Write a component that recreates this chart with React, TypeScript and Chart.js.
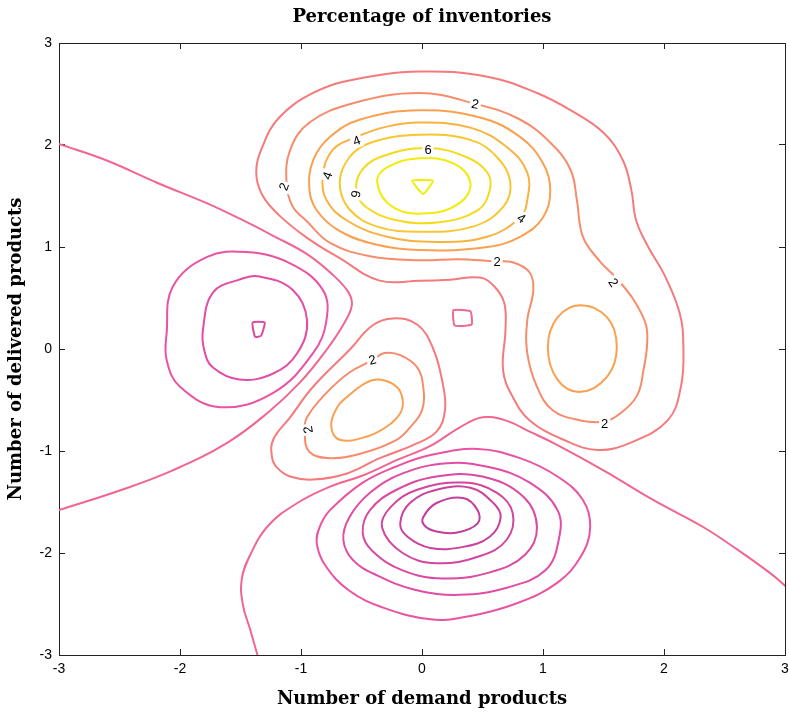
import { useEffect, useRef } from "react";
import { Chart, registerables } from "chart.js";

Chart.register(...registerables);

type Pt = [number, number];

// ---- axis ticks ----
const xTicks = [-3, -2, -1, 0, 1, 2, 3];
const yTicks = [-3, -2, -1, 0, 1, 2, 3];

// ---- contour lines (x, y in data units) ----
const top8: Pt[] = [[-0.08, 1.65], [0.09, 1.65], [0.01, 1.52]];
const top7: Pt[] = [[-0.37, 1.63], [-0.29, 1.78], [-0.02, 1.87], [0.26, 1.82], [0.40, 1.63], [0.31, 1.43], [0.04, 1.33], [-0.24, 1.39]];
const top6: Pt[] = [[-0.54, 1.53], [-0.51, 1.73], [-0.35, 1.88], [0.04, 1.97], [0.37, 1.88], [0.54, 1.73], [0.56, 1.56], [0.46, 1.36], [0.12, 1.24], [-0.24, 1.27], [-0.46, 1.39]];
const top5: Pt[] = [[-0.68, 1.63], [-0.60, 1.88], [-0.43, 2.02], [-0.02, 2.10], [0.40, 2.05], [0.62, 1.88], [0.73, 1.63], [0.67, 1.39], [0.42, 1.20], [-0.02, 1.15], [-0.37, 1.20], [-0.60, 1.37]];
const top4: Pt[] = [[-0.82, 1.69], [-0.74, 1.95], [-0.54, 2.08], [-0.29, 2.18], [-0.02, 2.22], [0.40, 2.17], [0.70, 1.98], [0.87, 1.73], [0.87, 1.46], [0.81, 1.29], [0.54, 1.10], [0.12, 1.05], [-0.29, 1.10], [-0.62, 1.26], [-0.79, 1.46]];
const top3: Pt[] = [[-0.93, 1.56], [-0.90, 1.85], [-0.76, 2.08], [-0.51, 2.25], [-0.02, 2.34], [0.48, 2.27], [0.81, 2.08], [1.00, 1.82], [1.06, 1.56], [1.00, 1.29], [0.81, 1.10], [0.54, 1.00], [-0.02, 0.97], [-0.43, 1.04], [-0.70, 1.17], [-0.87, 1.36]];
const upper2: Pt[] = [[-1.09, 1.95], [-0.93, 2.22], [-0.57, 2.41], [-0.02, 2.51], [0.42, 2.41], [0.81, 2.25], [1.08, 2.00], [1.23, 1.75], [1.28, 1.46], [1.33, 1.10], [1.47, 0.86], [1.61, 0.69], [1.75, 0.48], [1.85, 0.24], [1.86, 0.04], [1.83, -0.21], [1.78, -0.45], [1.64, -0.63], [1.51, -0.71], [1.31, -0.70], [1.08, -0.60], [0.95, -0.37], [0.87, -0.04], [0.87, 0.28], [0.92, 0.58], [0.89, 0.75], [0.75, 0.85], [0.58, 0.86], [0.31, 0.88], [-0.02, 0.87], [-0.43, 0.91], [-0.76, 1.04], [-0.95, 1.25], [-1.07, 1.40], [-1.12, 1.63]];
const upper1: Pt[] = [[-1.37, 1.73], [-1.32, 1.98], [-1.18, 2.27], [-0.90, 2.51], [-0.57, 2.64], [-0.02, 2.72], [0.54, 2.67], [0.95, 2.51], [1.23, 2.34], [1.50, 2.12], [1.66, 1.85], [1.73, 1.56], [1.77, 1.26], [1.87, 1.00], [2.01, 0.71], [2.13, 0.35], [2.16, 0.02], [2.14, -0.37], [2.03, -0.70], [1.72, -0.92], [1.45, -0.99], [1.17, -0.89], [0.89, -0.70], [0.75, -0.47], [0.67, -0.21], [0.69, 0.19], [0.68, 0.45], [0.60, 0.61], [0.48, 0.70], [0.23, 0.68], [-0.02, 0.67], [-0.35, 0.67], [-0.68, 0.89], [-0.95, 1.09], [-1.18, 1.31], [-1.32, 1.51]];
const right3: Pt[] = [[1.31, 0.43], [1.53, 0.31], [1.61, 0.02], [1.53, -0.27], [1.31, -0.42], [1.12, -0.30], [1.04, 0.02], [1.12, 0.31]];
const lobe1: Pt[] = [[-1.24, -1.06], [-1.23, -0.89], [-1.09, -0.67], [-0.90, -0.37], [-0.60, -0.01], [-0.41, 0.23], [-0.24, 0.30], [-0.04, 0.24], [0.09, 0.01], [0.17, -0.33], [0.19, -0.60], [0.12, -0.81], [-0.07, -0.94], [-0.35, -1.07], [-0.62, -1.22], [-0.90, -1.28], [-1.09, -1.25], [-1.20, -1.16]];
const lobe2: Pt[] = [[-0.97, -0.82], [-0.95, -0.67], [-0.79, -0.43], [-0.60, -0.23], [-0.41, -0.11], [-0.31, -0.04], [-0.18, -0.06], [-0.04, -0.18], [0.01, -0.37], [0.00, -0.60], [-0.10, -0.77], [-0.21, -0.89], [-0.49, -1.02], [-0.76, -1.07], [-0.93, -1.01]];
const lobe3: Pt[] = [[-0.70, -0.57], [-0.62, -0.47], [-0.46, -0.33], [-0.35, -0.30], [-0.21, -0.37], [-0.16, -0.50], [-0.18, -0.63], [-0.29, -0.76], [-0.46, -0.86], [-0.68, -0.89], [-0.75, -0.76]];
const leftMin1: Pt[] = [[-2.11, 0.16], [-2.06, 0.61], [-1.78, 0.90], [-1.45, 0.95], [-1.09, 0.84], [-0.82, 0.58], [-0.79, 0.28], [-0.90, -0.04], [-1.23, -0.43], [-1.67, -0.57], [-2.00, -0.37], [-2.11, -0.11]];
const leftMin2: Pt[] = [[-1.81, 0.19], [-1.73, 0.55], [-1.51, 0.68], [-1.34, 0.71], [-1.07, 0.58], [-0.95, 0.28], [-1.03, -0.04], [-1.23, -0.24], [-1.51, -0.30], [-1.73, -0.18], [-1.80, -0.01]];
const leftMin3: Pt[] = [[-1.40, 0.26], [-1.30, 0.26], [-1.33, 0.13], [-1.38, 0.12]];
const zeroLeft: Pt[] = [[-3.0, 2.01], [-2.61, 1.85], [-2.19, 1.63], [-1.78, 1.43], [-1.51, 1.28], [-1.23, 1.11], [-0.95, 0.93], [-0.74, 0.73], [-0.61, 0.56], [-0.58, 0.43], [-0.64, 0.26], [-0.79, -0.01], [-1.01, -0.33], [-1.28, -0.63], [-1.61, -0.92], [-2.06, -1.19], [-2.48, -1.38], [-3.0, -1.58]];
const zeroBottom: Pt[] = [[-1.36, -3.0], [-1.42, -2.75], [-1.48, -2.51], [-1.49, -2.26], [-1.42, -2.02], [-1.27, -1.73], [-1.03, -1.51], [-0.76, -1.35], [-0.49, -1.24], [-0.21, -1.09], [0.07, -0.95], [0.31, -0.77], [0.50, -0.67], [0.69, -0.70], [0.89, -0.81], [1.10, -0.93], [1.50, -1.19], [1.91, -1.48], [2.33, -1.75], [2.61, -1.97], [2.88, -2.20], [3.0, -2.32]];
const zeroCenter: Pt[] = [[0.26, 0.38], [0.40, 0.37], [0.41, 0.24], [0.27, 0.23]];
const bottom1: Pt[] = [[-0.76, -1.58], [-0.49, -1.31], [-0.21, -1.15], [0.07, -1.04], [0.46, -0.98], [0.81, -1.07], [1.12, -1.25], [1.33, -1.48], [1.39, -1.75], [1.31, -2.04], [1.12, -2.29], [0.79, -2.49], [0.34, -2.63], [0.07, -2.65], [-0.31, -2.54], [-0.60, -2.37], [-0.80, -2.12], [-0.87, -1.90], [-0.84, -1.73]];
const bottom2: Pt[] = [[-0.65, -1.87], [-0.60, -1.65], [-0.43, -1.41], [-0.16, -1.22], [0.21, -1.12], [0.56, -1.16], [0.89, -1.31], [1.12, -1.58], [1.13, -1.87], [1.02, -2.17], [0.70, -2.34], [0.31, -2.41], [-0.06, -2.36], [-0.37, -2.22], [-0.57, -2.07]];
const bottom3: Pt[] = [[-0.49, -1.80], [-0.43, -1.58], [-0.21, -1.38], [0.12, -1.25], [0.50, -1.25], [0.84, -1.45], [0.95, -1.75], [0.85, -2.02], [0.56, -2.19], [0.17, -2.25], [-0.16, -2.17], [-0.41, -1.98]];
const bottom4: Pt[] = [[-0.33, -1.75], [-0.26, -1.55], [-0.04, -1.38], [0.34, -1.31], [0.62, -1.41], [0.75, -1.61], [0.70, -1.87], [0.48, -2.03], [0.12, -2.10], [-0.16, -2.00]];
const bottom5: Pt[] = [[-0.18, -1.71], [-0.10, -1.51], [0.12, -1.38], [0.40, -1.36], [0.59, -1.51], [0.65, -1.65], [0.56, -1.84], [0.34, -1.94], [0.07, -1.95], [-0.12, -1.84]];
const bottom6: Pt[] = [[0.01, -1.65], [0.12, -1.51], [0.34, -1.46], [0.46, -1.58], [0.46, -1.71], [0.29, -1.80], [0.12, -1.79], [0.02, -1.73]];

// level of each line, whether it closes, and its points
const contourLines: { level: number; closed: boolean; pts: Pt[] }[] = [
  { level: 0, closed: false, pts: zeroLeft },
  { level: 0, closed: false, pts: zeroBottom },
  { level: 0, closed: true, pts: zeroCenter },
  { level: -1, closed: true, pts: leftMin1 },
  { level: -2, closed: true, pts: leftMin2 },
  { level: -3, closed: true, pts: leftMin3 },
  { level: -1, closed: true, pts: bottom1 },
  { level: -2, closed: true, pts: bottom2 },
  { level: -3, closed: true, pts: bottom3 },
  { level: -4, closed: true, pts: bottom4 },
  { level: -5, closed: true, pts: bottom5 },
  { level: -6, closed: true, pts: bottom6 },
  { level: 1, closed: true, pts: upper1 },
  { level: 2, closed: true, pts: upper2 },
  { level: 3, closed: true, pts: top3 },
  { level: 4, closed: true, pts: top4 },
  { level: 5, closed: true, pts: top5 },
  { level: 6, closed: true, pts: top6 },
  { level: 7, closed: true, pts: top7 },
  { level: 8, closed: true, pts: top8 },
  { level: 3, closed: true, pts: right3 },
  { level: 1, closed: true, pts: lobe1 },
  { level: 2, closed: true, pts: lobe2 },
  { level: 3, closed: true, pts: lobe3 },
];

// inline contour labels
const labelTexts = ["2", "2", "4", "4", "6", "6", "4", "2", "2", "2", "2", "2"];
const labelX = [0.44, -1.14, -0.54, -0.78, 0.05, -0.55, 0.82, 0.62, 1.58, 1.51, -0.41, -0.94];
const labelY = [2.40, 1.59, 2.04, 1.70, 1.95, 1.52, 1.28, 0.85, 0.65, -0.73, -0.11, -0.79];
const labelAngle = [12, -70, -20, -70, 0, 100, 35, 0, 55, 0, -15, -100];

// style: colour of each level (spring-like colormap)
const levelColors: Record<string, string> = {
  "-6": "#c23d9c",
  "-5": "#ca419e",
  "-4": "#d245a0",
  "-3": "#da49a2",
  "-2": "#e24ca4",
  "-1": "#ea53a2",
  "0": "#f0668e",
  "1": "#f47a7c",
  "2": "#f78c6c",
  "3": "#faa050",
  "4": "#fab23e",
  "5": "#f8c62e",
  "6": "#f5da1c",
  "7": "#f0ec0c",
  "8": "#f0ee00",
};

const HIDDEN = "rgba(0,0,0,0)";

const labelPlugin = {
  id: "contourLabels",
  afterDatasetsDraw(chart: any) {
    const { ctx, scales } = chart;
    const xs = scales.x;
    const ys = scales.y;
    ctx.save();
    ctx.font = '13px "Liberation Sans", Arial, sans-serif';
    ctx.textAlign = "center";
    ctx.textBaseline = "middle";
    for (let i = 0; i < labelTexts.length; i++) {
      const px = xs.getPixelForValue(labelX[i]);
      const py = ys.getPixelForValue(labelY[i]);
      ctx.save();
      ctx.translate(px, py);
      ctx.rotate((labelAngle[i] * Math.PI) / 180);
      const w = ctx.measureText(labelTexts[i]).width;
      ctx.fillStyle = "#ffffff";
      ctx.fillRect(-w / 2 - 2, -7, w + 4, 14);
      ctx.fillStyle = "#000000";
      ctx.fillText(labelTexts[i], 0, 0.5);
      ctx.restore();
    }
    ctx.restore();
  },
};

function zeroPad(s: any) {
  s.paddingLeft = 0;
  s.paddingRight = 0;
  s.paddingTop = 0;
  s.paddingBottom = 0;
}

export default function App() {
  const canvasRef = useRef<HTMLCanvasElement | null>(null);

  useEffect(() => {
    if (!canvasRef.current) return;
    const datasets = contourLines.map((c, i) => {
      const color = levelColors[String(c.level)];
      const n = c.pts.length;
      let data = c.pts.map(([x, y]) => ({ x, y }));
      let segment: any = undefined;
      if (c.closed) {
        // wrap around so the smoothed curve closes without a corner;
        // the two extra end segments are not drawn
        const last = data[n - 1];
        data = [last, ...data, data[0], data[1]];
        const total = data.length;
        segment = {
          borderColor: (ctx: any) =>
            ctx.p0DataIndex === 0 || ctx.p1DataIndex === total - 1 ? HIDDEN : color,
        };
      }
      return {
        label: "level " + c.level + " #" + i,
        data,
        showLine: true,
        borderColor: color,
        backgroundColor: color,
        borderWidth: 2,
        borderCapStyle: "round",
        borderJoinStyle: "round",
        pointRadius: 0,
        pointHoverRadius: 0,
        tension: n <= 4 ? 0.15 : 0.4,
        fill: false,
        segment,
      };
    });

    const tickFont = { family: '"Liberation Sans", Arial, sans-serif', size: 14 };
    const titleFont = { family: '"DejaVu Serif", serif', size: 18, weight: "bold" as const };
    const gridOpts = {
      drawOnChartArea: false,
      drawTicks: true,
      tickLength: -6,
      color: "#222222",
      lineWidth: 1,
    };
    const borderOpts = { display: true, color: "#222222", width: 1 };

    const chart = new Chart(canvasRef.current, {
      type: "scatter",
      data: { datasets: datasets as any },
      options: {
        animation: false,
        responsive: true,
        maintainAspectRatio: false,
        layout: { padding: { left: 0, right: 4, top: 0, bottom: 0 } },
        plugins: {
          legend: { display: false },
          tooltip: { enabled: false },
          title: {
            display: true,
            text: "Percentage of inventories",
            font: titleFont,
            color: "#000000",
            fullSize: false,
            padding: { top: 7, bottom: 14.4 },
          },
        },
        scales: {
          x: {
            type: "linear",
            position: "bottom",
            min: -3,
            max: 3,
            afterBuildTicks: (s: any) => {
              s.ticks = xTicks.map((v) => ({ value: v }));
            },
            afterFit: (s: any) => {
              s.height = 59;
              zeroPad(s);
            },
            ticks: { font: tickFont, color: "#000000", padding: 12, maxRotation: 0, autoSkip: false },
            grid: gridOpts,
            border: borderOpts,
            title: {
              display: true,
              text: "Number of demand products",
              font: titleFont,
              color: "#000000",
              padding: { top: 0, bottom: 4 },
            },
          },
          y: {
            type: "linear",
            position: "left",
            min: -3,
            max: 3,
            afterBuildTicks: (s: any) => {
              s.ticks = yTicks.map((v) => ({ value: v }));
            },
            afterFit: (s: any) => {
              s.width = 59;
              zeroPad(s);
            },
            ticks: { font: tickFont, color: "#000000", padding: 13, autoSkip: false },
            grid: gridOpts,
            border: borderOpts,
            title: {
              display: true,
              text: "Number of delivered products",
              font: titleFont,
              color: "#000000",
              padding: { top: 6, bottom: 0 },
            },
          },
          x2: {
            type: "linear",
            axis: "x",
            position: "top",
            min: -3,
            max: 3,
            afterBuildTicks: (s: any) => {
              s.ticks = xTicks.map((v) => ({ value: v }));
            },
            afterFit: (s: any) => {
              s.height = 0;
              zeroPad(s);
            },
            ticks: { display: false },
            grid: gridOpts,
            border: borderOpts,
          },
          y2: {
            type: "linear",
            axis: "y",
            position: "right",
            min: -3,
            max: 3,
            afterBuildTicks: (s: any) => {
              s.ticks = yTicks.map((v) => ({ value: v }));
            },
            afterFit: (s: any) => {
              s.width = 0;
              zeroPad(s);
            },
            ticks: { display: false },
            grid: gridOpts,
            border: borderOpts,
          },
        } as any,
      },
      plugins: [labelPlugin],
    });
    return () => chart.destroy();
  }, []);

  return (
    <div
      style={{
        position: "fixed",
        left: 0,
        top: 0,
        width: 789,
        height: 714,
        background: "#ffffff",
      }}
    >
      <canvas ref={canvasRef} />
    </div>
  );
}
